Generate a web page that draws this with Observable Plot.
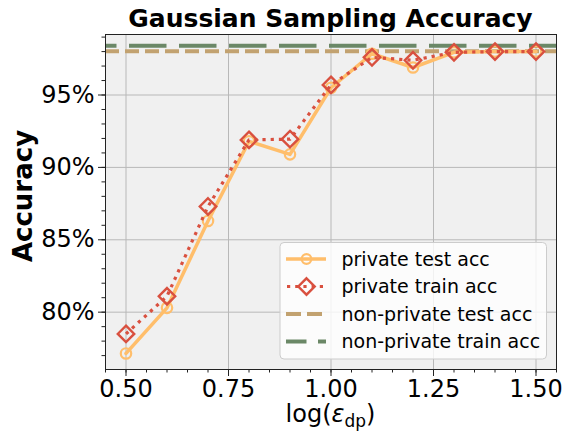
<!DOCTYPE html>
<html>
<head>
<meta charset="utf-8">
<script src="https://cdn.jsdelivr.net/npm/d3@7"></script>
<script src="https://cdn.jsdelivr.net/npm/@observablehq/plot@0.6"></script>
<style>
  body { margin: 0; background: #fff; }
  svg { font-family: "DejaVu Sans", sans-serif; }
</style>
</head>
<body>
<div id="chart"></div>
<script>
const epsilons = [0.5, 0.6, 0.7, 0.8, 0.9, 1.0, 1.1, 1.2, 1.3, 1.4, 1.5];
const privateTest = [77.15, 80.3, 86.3, 91.8, 90.9, 95.5, 97.85, 96.9, 97.95, 98.0, 98.0];
const privateTrain = [78.5, 81.1, 87.3, 91.9, 91.95, 95.7, 97.6, 97.4, 97.95, 98.0, 98.0];
const nonPrivateTest = 98.02;
const nonPrivateTrain = 98.41;
const xTicks = [0.5, 0.75, 1.0, 1.25, 1.5];
const yTicks = [80, 85, 90, 95];
const seriesLabels = ["private test acc", "private train acc", "non-private test acc", "non-private train acc"];
const colors = {test: "#ffbe6b", train: "#d9503f", npTest: "#c2a270", npTrain: "#6b8867"};

const testData = epsilons.map((x, i) => ({x, y: privateTest[i]}));
const trainData = epsilons.map((x, i) => ({x, y: privateTrain[i]}));

const xMinor = d3.range(0.45, 1.5501, 0.05).map(d => +d.toFixed(2));
const yMinor = d3.range(77, 100, 1);

const chart = Plot.plot({
  width: 565,
  height: 433,
  marginLeft: 105,
  marginRight: 9,
  marginTop: 34,
  marginBottom: 64,
  style: {fontSize: "24px", fontFamily: "'DejaVu Sans', sans-serif", color: "#000", background: "#fff"},
  x: {domain: [0.45, 1.55], label: null},
  y: {domain: [76.04, 99.18], label: null},
  marks: [
    Plot.frame({fill: "#f0f0f0", stroke: null}),
    Plot.gridX(xTicks, {stroke: "#b8b8b8", strokeOpacity: 1, strokeWidth: 1}),
    Plot.gridY(yTicks, {stroke: "#b8b8b8", strokeOpacity: 1, strokeWidth: 1}),
    Plot.ruleY([nonPrivateTest], {stroke: colors.npTest, strokeWidth: 4, strokeDasharray: "14 6"}),
    Plot.ruleY([nonPrivateTrain], {stroke: colors.npTrain, strokeWidth: 4, strokeDasharray: "37.5 12.5", strokeDashoffset: 26}),
    Plot.line(testData, {x: "x", y: "y", stroke: colors.test, strokeWidth: 3.5}),
    Plot.dot(testData, {x: "x", y: "y", r: 5.2, stroke: colors.test, strokeWidth: 2.2, fill: "none"}),
    Plot.line(trainData, {x: "x", y: "y", stroke: colors.train, strokeWidth: 3.2, strokeDasharray: "3.2 5", strokeLinecap: "butt"}),
    Plot.dot(trainData, {x: "x", y: "y", r: 7.4, symbol: "diamond2", stroke: colors.train, strokeWidth: 2.4, fill: "none"}),
    Plot.frame({stroke: "#222", strokeWidth: 1}),
    Plot.axisX({ticks: xMinor, tickSize: 3.5, tickFormat: () => "", label: null, stroke: "#222"}),
    Plot.axisX({ticks: xTicks, tickSize: 7, tickPadding: 3, tickFormat: d3.format(".2f"), label: null, stroke: "#222", fill: "#000", fontSize: 24}),
    Plot.axisY({ticks: yMinor, tickSize: 3.5, tickFormat: () => "", label: null, stroke: "#222"}),
    Plot.axisY({ticks: yTicks, tickSize: 7, tickPadding: 4, tickFormat: d => d + "%", label: null, stroke: "#222", fill: "#000", fontSize: 24})
  ]
});

document.getElementById("chart").appendChild(chart);

const svg = d3.select(chart);
// Title
svg.append("text")
  .attr("x", 330.5).attr("y", 27)
  .attr("text-anchor", "middle")
  .attr("font-size", 25).attr("font-weight", "bold").attr("fill", "#000")
  .text("Gaussian Sampling Accuracy");
// Y label
svg.append("text")
  .attr("transform", "translate(32,196) rotate(-90)")
  .attr("text-anchor", "middle")
  .attr("font-size", 26).attr("font-weight", "bold").attr("fill", "#000")
  .text("Accuracy");
// X label
const xl = svg.append("text")
  .attr("x", 330.5).attr("y", 422)
  .attr("text-anchor", "middle")
  .attr("font-size", 24).attr("fill", "#000");
xl.append("tspan").text("log(");
xl.append("tspan").attr("font-style", "italic").text("ε");
xl.append("tspan").attr("font-size", 17).attr("dy", 4.5).text("dp");
xl.append("tspan").attr("dy", -4.5).text(")");

// Legend
const lg = svg.append("g").attr("text-anchor", "start");
lg.append("rect").attr("x", 280).attr("y", 242.5).attr("width", 266.5).attr("height", 116.5)
  .attr("rx", 4).attr("fill", "#fff").attr("fill-opacity", 0.8).attr("stroke", "#cccccc").attr("stroke-width", 1);
const rowY = [259, 286.5, 314, 341.5];
const lx0 = 286, lx1 = 326, lxm = 306.5;
const styles = [
  {stroke: colors.test, width: 3.5, dash: null},
  {stroke: colors.train, width: 3.2, dash: "3.2 5"},
  {stroke: colors.npTest, width: 4, dash: "15 6"},
  {stroke: colors.npTrain, width: 4, dash: "20.5 11.5"}
];
seriesLabels.forEach((label, i) => {
  const s = styles[i];
  const ln = lg.append("line").attr("x1", lx0).attr("x2", lx1).attr("y1", rowY[i]).attr("y2", rowY[i])
    .attr("stroke", s.stroke).attr("stroke-width", s.width);
  if (s.dash) ln.attr("stroke-dasharray", s.dash);
  if (i === 1) ln.attr("stroke-dashoffset", -1);
  if (i === 0) lg.append("circle").attr("cx", lxm).attr("cy", rowY[i]).attr("r", 4.8)
    .attr("fill", "none").attr("stroke", colors.test).attr("stroke-width", 2.2);
  if (i === 1) lg.append("path").attr("d", d3.symbol(d3.symbolDiamond2, 7.4 * 7.4 * Math.PI)())
    .attr("transform", `translate(${lxm},${rowY[i]})`)
    .attr("fill", "none").attr("stroke", colors.train).attr("stroke-width", 2.4);
  lg.append("text").attr("x", 341.5).attr("y", rowY[i] + 6.8)
    .attr("font-size", 19).attr("fill", "#000").text(label);
});
</script>
</body>
</html>
